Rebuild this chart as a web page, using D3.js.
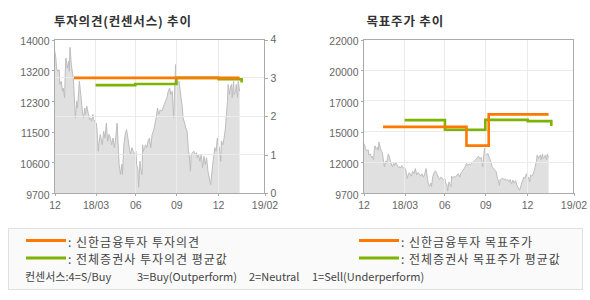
<!DOCTYPE html>
<html><head><meta charset="utf-8">
<script src="https://cdn.jsdelivr.net/npm/d3@7"></script>
<style>body{margin:0;background:#fff}svg{display:block}</style>
</head><body>
<svg id="c" width="590" height="300"></svg>
<script>
// trading-day index from 2017-12 start
const priceDays = [0,2,3,5,7,8,10,12,13,15,16,17,19,21,22,23,25,27,28,30,31,33,34,36,37,39,40,42,43,45,46,48,49,51,52,54,55,57,58,60,61,62,63,65,66,68,
69,71,73,75,77,79,81,83,85,87,89,91,93,95,96,98,100,101,103,105,107,109,111,113,115,117,119,121,122,124,125,127,128,130,131,132,134,135,137,139,141,
143,145,147,149,151,153,155,157,159,161,163,165,167,169,171,173,175,177,179,180,182,184,185,188,190,191,194,195,197,199,200,202,203,205,207,209,211,
212,214,216,218,220,222,224,226,228,230,232,234,235,237,238,240,242,243,245,247,248,250,252,254,255,257,258,260,261,263,264,266,267,269,270,272,273,275];
const priceClose = [13710,13480,13200,13110,13150,12740,12830,12550,12640,12370,13110,13480,13200,13390,13110,13780,13300,13010,12920,12180,11800,12270,12080,12550,12830,12460,12270,11900,11800,12080,11900,12130,12030,11850,11760,11800,11710,11900,11760,11710,11610,11660,11520,10870,11090,11340,
11240,11050,11430,11240,11660,11150,11340,11240,11050,11240,10970,11240,11660,10870,10500,10220,10500,10220,11050,11340,11480,11240,10970,10780,10970,10870,10780,10870,10500,10360,9860,10590,10410,10220,11050,10870,10970,11050,10970,11150,11240,
10970,11340,11430,11610,11800,12080,11900,12030,11990,12080,12180,12270,12370,12550,12640,12460,12550,11800,12830,13300,12740,12830,12830,12370,12080,11800,11610,11520,11430,10870,10780,10310,10780,10830,10870,10780,10830,
10690,10780,10590,10780,10410,10730,10500,10690,10310,10120,9930,10310,10500,10780,10970,10870,11240,11050,10970,10590,11150,11050,11240,11520,11800,12270,12740,12460,12640,12740,12370,12830,12460,12550,12740,12370,12830,12550];

const xTickDays = [0,61,120,181,243,312];
const xTickLabels = ["12","18/03","06","09","12","19/02"];

const priceTickLabels = ["9700","10600","11500","12300","13200","14000"];
const opinionTicks = [0,1,2,3,4];
const targetTickLabels = ["9700","12000","15000","17000","20000","22000"];

const shinhanOpinionDays = [29,275];
const shinhanOpinion = [3,3];
const avgOpinionDays = [61,120,181,244,278];
const avgOpinion = [2.81,2.84,3.0,2.966,2.88];

const shinhanTargetDays = [29,153,186,275];
const shinhanTarget = [15000,13500,16000,16000];
const avgTargetDays = [61,121,181,244,279];
const avgTarget = [15540,14770,15560,15460,15060];

const titles = ["투자의견(컨센서스) 추이","목표주가 추이"];
const legendLabels = [": 신한금융투자 투자의견",": 전체증권사 투자의견 평균값",": 신한금융투자 목표주가",": 전체증권사 목표주가 평균값"];
const consensusParts = ["컨센서스:4=S/Buy","3=Buy(Outperform)","2=Neutral","1=Sell(Underperform)"];

const ORANGE = "#ff7800", GREEN = "#7db400", GRID = "#ebebeb", AXIS = "#ababab", LABEL = "#666";
const FONT = "'Noto Sans CJK KR', 'Liberation Sans', sans-serif";
const NUMFONT = "'Liberation Sans', Arial, sans-serif";

const svg = d3.select("#c");
const yTop = 39.5, yBottom = 193;

function zip(a,b){ return a.map((d,i)=>({x:d,y:b[i]})); }

function drawChart(g, x0, x1, yPrice, tickVals, tickLabels, opts){
  const x = d3.scaleLinear().domain([0,312]).range([x0,x1]);
  const prices = zip(priceDays, priceClose);
  g.append("path").datum(prices)
    .attr("d", d3.area().x(d=>x(d.x)).y0(yBottom).y1(d=>yPrice(d.y)))
    .attr("fill","#e0e0e0");
  g.append("path").datum(prices)
    .attr("d", d3.line().x(d=>x(d.x)).y(d=>yPrice(d.y)))
    .attr("fill","none").attr("stroke","#bdbdbd").attr("stroke-width",1);
  const grid = g.append("g").attr("shape-rendering","crispEdges");
  xTickDays.slice(1,-1).forEach(d=>{
    grid.append("line").attr("x1",x(d)).attr("x2",x(d)).attr("y1",yTop).attr("y2",yBottom)
      .attr("stroke",GRID);
  });
  opts.hGrid.forEach(yv=>{
    grid.append("line").attr("x1",x0).attr("x2",x1).attr("y1",yv).attr("y2",yv).attr("stroke",GRID);
  });
  const step = (ys)=> d3.line().curve(d3.curveStepAfter).x(d=>x(d.x)).y(d=>ys(d.y));
  opts.series.forEach(s=>{
    g.append("path").datum(zip(s.days,s.vals)).attr("d",step(s.scale))
      .attr("fill","none").attr("stroke",s.color).attr("stroke-width",2.6);
  });
  g.append("rect").attr("x",x0).attr("y",yTop).attr("width",x1-x0).attr("height",yBottom-yTop)
    .attr("fill","none").attr("stroke",AXIS).attr("shape-rendering","crispEdges");
  const la = g.append("g").attr("transform",`translate(${x0},0)`)
    .call(d3.axisLeft(yPrice).tickValues(tickVals).tickSize(3).tickPadding(2).tickFormat((d,i)=>tickLabels[i]));
  const ba = g.append("g").attr("transform",`translate(0,${yBottom})`)
    .call(d3.axisBottom(x).tickValues(xTickDays).tickSize(3).tickPadding(6).tickFormat((d,i)=>xTickLabels[i]));
  const axes = [la,ba];
  if (opts.rightScale){
    const ra = g.append("g").attr("transform",`translate(${x1},0)`)
      .call(d3.axisRight(opts.rightScale).tickValues(opinionTicks).tickSize(3).tickPadding(3).tickFormat(d3.format("d")));
    axes.push(ra);
  }
  axes.forEach(a=>{
    a.select(".domain").remove();
    a.selectAll(".tick line").attr("stroke",AXIS).attr("shape-rendering","crispEdges");
    a.selectAll("text").attr("fill",LABEL).attr("font-family",NUMFONT).attr("font-size","10.5px");
  });
  la.selectAll("text").attr("dy","0.5em");
}

const L0 = 54.5, L1 = 264.5;
const yPriceL = d3.scaleLinear().domain([9700,14000]).range([yBottom,yTop]);
const yOp = d3.scaleLinear().domain([0,4]).range([yBottom,yTop]);
const priceTickValsL = priceTickLabels.map((d,i)=>9700 + i*(14000-9700)/5);
drawChart(svg.append("g"), L0, L1, yPriceL, priceTickValsL, priceTickLabels, {
  hGrid: [1,2,3].map(v=>yOp(v)),
  rightScale: yOp,
  series: [
    {days:avgOpinionDays, vals:avgOpinion, scale:yOp, color:GREEN},
    {days:shinhanOpinionDays, vals:shinhanOpinion, scale:yOp, color:ORANGE}
  ]
});

const R0 = 363.5, R1 = 573.5;
const yT = d3.scaleLinear().domain([9700,22000]).range([yBottom,yTop]);
const targetTickVals = targetTickLabels.map((d,i)=>9700 + i*(22000-9700)/5);
drawChart(svg.append("g"), R0, R1, yT, targetTickVals, targetTickLabels, {
  hGrid: targetTickVals.slice(1,-1).map(v=>yT(v)),
  rightScale: null,
  series: [
    {days:avgTargetDays, vals:avgTarget, scale:yT, color:GREEN},
    {days:shinhanTargetDays, vals:shinhanTarget, scale:yT, color:ORANGE}
  ]
});

[[54,titles[0]],[366.5,titles[1]]].forEach(([tx,t])=>{
  svg.append("text").attr("x",tx).attr("y",20).attr("dominant-baseline","central")
    .attr("font-family",FONT).attr("font-weight","bold").attr("font-size","12.5px")
    .attr("letter-spacing","0.8px").attr("fill","#333")
    .text(t);
});

const lg = svg.append("g");
lg.append("rect").attr("x",8.5).attr("y",228.5).attr("width",574).attr("height",61)
  .attr("fill","#fafafa").attr("stroke","#e0e0e0");
const legendItems = [
  {x:26, y:240.5, color:ORANGE, label:legendLabels[0]},
  {x:26, y:258, color:GREEN, label:legendLabels[1]},
  {x:359, y:240.5, color:ORANGE, label:legendLabels[2]},
  {x:359, y:258, color:GREEN, label:legendLabels[3]}
];
legendItems.forEach(it=>{
  lg.append("line").attr("x1",it.x).attr("x2",it.x+40).attr("y1",it.y).attr("y2",it.y)
    .attr("stroke",it.color).attr("stroke-width",3);
  lg.append("text").attr("x",it.x+42).attr("y",it.y+0.5).attr("dominant-baseline","central")
    .attr("font-family",FONT).attr("font-size","12px").attr("letter-spacing","1px")
    .attr("fill","#444").text(it.label);
});
const partX = [25,137,249,312];
consensusParts.forEach((t,i)=>{
  lg.append("text").attr("x",partX[i]).attr("y",275.5).attr("dominant-baseline","central")
    .attr("font-family",FONT).attr("font-size","11px").attr("fill","#444").text(t);
});
</script>
</body></html>
